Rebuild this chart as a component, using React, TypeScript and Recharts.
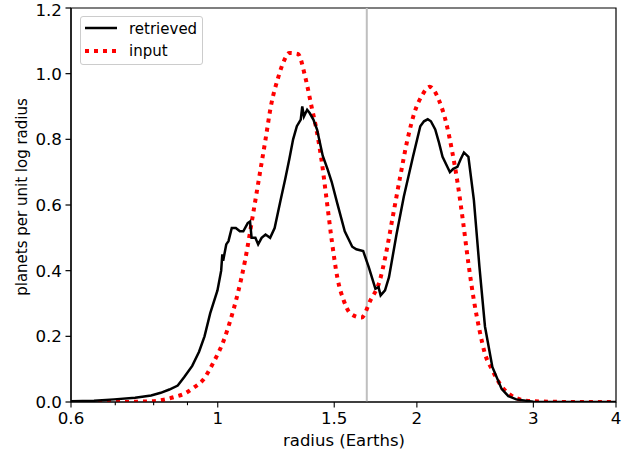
import React from "react";
import {
  LineChart,
  Line,
  XAxis,
  YAxis,
  ReferenceLine,
  ReferenceArea,
  Label,
} from "recharts";

// retrieved distribution (black)
const retrievedRadius = [
  0.6, 0.65, 0.697, 0.75, 0.793, 0.82, 0.845, 0.87, 0.89, 0.915, 0.937, 0.955,
  0.974, 0.999, 1.012, 1.016, 1.019, 1.03, 1.038, 1.05, 1.065, 1.08, 1.093,
  1.11, 1.119, 1.125, 1.14, 1.151, 1.165, 1.181, 1.2, 1.219, 1.243, 1.265,
  1.283, 1.3, 1.317, 1.335, 1.342, 1.35, 1.365, 1.377, 1.395, 1.413, 1.441,
  1.465, 1.487, 1.516, 1.556, 1.597, 1.62, 1.659, 1.692, 1.731, 1.75, 1.763,
  1.79, 1.815, 1.863, 1.911, 1.973, 2.024, 2.05, 2.077, 2.1, 2.132, 2.16, 2.187,
  2.244, 2.27, 2.303, 2.33, 2.356, 2.393, 2.439, 2.487, 2.535, 2.601, 2.686,
  2.75, 2.827, 3.0, 3.5, 4.0,
];
const retrievedValue = [
  0.002, 0.004, 0.008, 0.013, 0.02, 0.028, 0.038, 0.05, 0.076, 0.11, 0.153,
  0.2, 0.27, 0.34, 0.4, 0.45, 0.43, 0.48, 0.49, 0.53, 0.53, 0.52, 0.52, 0.545,
  0.55, 0.5, 0.5, 0.48, 0.5, 0.51, 0.5, 0.53, 0.61, 0.68, 0.74, 0.8, 0.84, 0.86,
  0.9, 0.87, 0.89, 0.88, 0.86, 0.83, 0.75, 0.71, 0.67, 0.605, 0.52, 0.473,
  0.465, 0.46, 0.41, 0.345, 0.35, 0.325, 0.34, 0.38, 0.51, 0.625, 0.747, 0.84,
  0.855, 0.861, 0.855, 0.83, 0.79, 0.747, 0.7, 0.71, 0.716, 0.74, 0.76, 0.747,
  0.615, 0.41, 0.23, 0.107, 0.04, 0.018, 0.008, 0.001, 0.0, 0.0,
];

// input distribution (red dotted)
const inputRadius = [
  0.6, 0.7, 0.793, 0.829, 0.859, 0.89, 0.919, 0.949, 0.986, 1.019, 1.045, 1.072,
  1.1, 1.129, 1.158, 1.181, 1.203, 1.235, 1.26, 1.283, 1.322, 1.356, 1.386,
  1.413, 1.435, 1.459, 1.487, 1.516, 1.55, 1.586, 1.649, 1.702, 1.758, 1.792,
  1.839, 1.887, 1.936, 1.986, 2.038, 2.091, 2.159, 2.215, 2.259, 2.303, 2.347,
  2.393, 2.439, 2.487, 2.535, 2.601, 2.668, 2.756, 2.864, 3.01, 3.5, 4.0,
];
const inputValue = [
  0.0, 0.0, 0.002, 0.007, 0.015, 0.025, 0.043, 0.066, 0.122, 0.183, 0.249, 0.33,
  0.432, 0.564, 0.697, 0.8, 0.9, 0.99, 1.04, 1.063, 1.06, 0.99, 0.9, 0.82,
  0.737, 0.625, 0.493, 0.38, 0.31, 0.27, 0.257, 0.31, 0.37, 0.442, 0.564, 0.686,
  0.8, 0.885, 0.935, 0.96, 0.92, 0.85, 0.768, 0.671, 0.554, 0.422, 0.31, 0.219,
  0.147, 0.097, 0.056, 0.025, 0.008, 0.002, 0.0, 0.0,
];

const xTicks = [0.6, 0.7, 0.8, 0.9, 1, 1.5, 2, 3, 4];
const xTickLabels = ["0.6", "", "", "", "1", "1.5", "2", "3", "4"];
const yTicks = [0, 0.2, 0.4, 0.6, 0.8, 1.0, 1.2];
const thresholdRadius = 1.68;

const retrieved = retrievedRadius.map((r, i) => ({ r, v: retrievedValue[i] }));
const input = inputRadius.map((r, i) => ({ r, v: inputValue[i] }));

const FONT = "DejaVu Sans, sans-serif";
const FS = 16.7;
const FS_SMALL = 15;

const XTick = (props: any) => {
  const { x, y, index } = props;
  const label = xTickLabels[index] ?? "";
  const major = label !== "";
  return (
    <g>
      <line x1={x} x2={x} y1={y} y2={y + (major ? 5.5 : 3.2)} stroke="#000" strokeWidth={1.1} />
      {major && (
        <text x={x} y={y + 22} textAnchor="middle" fontSize={FS} fontFamily={FONT} fill="#000">
          {label}
        </text>
      )}
    </g>
  );
};

function LegendBox() {
  return (
    <div
      style={{
        position: "absolute",
        left: 80,
        top: 16,
        width: 123,
        height: 49,
        border: "1px solid #cccccc",
        borderRadius: 3,
        background: "rgba(255,255,255,0.8)",
        boxSizing: "border-box",
      }}
    >
      <svg width={123} height={49} style={{ position: "absolute", left: -1, top: -1 }}>
        <line x1={5} x2={37} y1={12} y2={12} stroke="#000" strokeWidth={2.5} />
        <line x1={5} x2={37} y1={35} y2={35} stroke="#ff0000" strokeWidth={4} strokeDasharray="4 5" />
        <text x={49} y={17.5} fontSize={FS_SMALL} fontFamily={FONT} fill="#000">
          retrieved
        </text>
        <text x={49} y={40} fontSize={FS_SMALL} fontFamily={FONT} fill="#000">
          input
        </text>
      </svg>
    </div>
  );
}

export default function App() {
  return (
    <div style={{ position: "absolute", left: 0, top: 0, width: 638, height: 454, background: "#fff" }}>
      <LineChart width={638} height={454} margin={{ top: 8, right: 22, left: 0, bottom: 0 }}>
        <XAxis
          dataKey="r"
          type="number"
          scale="log"
          domain={[0.6, 4]}
          ticks={xTicks}
          allowDataOverflow
          height={52}
          tickLine={false}
          tickSize={0}
          tickMargin={0}
          tick={<XTick />}
          stroke="#000"
          strokeWidth={1.2}
          interval={0}
        >
          <Label
            content={() => (
              <text x={344} y={446} textAnchor="middle" fontSize={16.5} fontFamily={FONT} fill="#000">
                radius (Earths)
              </text>
            )}
          />
        </XAxis>
        <YAxis
          type="number"
          domain={[0, 1.2]}
          ticks={yTicks}
          width={71}
          tickSize={5.5}
          tickMargin={3.5}
          tickFormatter={(v: number) => v.toFixed(1)}
          tick={{ fontSize: FS, fontFamily: FONT, fill: "#000" }}
          stroke="#000"
          strokeWidth={1.2}
          allowDataOverflow
        >
          <Label
            content={() => (
              <text
                x={22}
                y={197}
                transform="rotate(-90 22 197)"
                textAnchor="middle"
                dominantBaseline="central"
                fontSize={FS_SMALL}
                fontFamily={FONT}
                fill="#000"
              >
                planets per unit log radius
              </text>
            )}
          />
        </YAxis>
        <ReferenceArea x1={0.6} x2={4} y1={0} y2={1.2} fill="none" stroke="#000" strokeWidth={1.2} />
        <ReferenceLine x={thresholdRadius} stroke="#bfbfbf" strokeWidth={2} />
        <Line
          data={input}
          dataKey="v"
          type="monotone"
          stroke="#ff0000"
          strokeWidth={4}
          strokeDasharray="4 5"
          dot={false}
          isAnimationActive={false}
          name="input"
        />
        <Line
          data={retrieved}
          dataKey="v"
          type="linear"
          stroke="#000"
          strokeWidth={2.5}
          dot={false}
          isAnimationActive={false}
          name="retrieved"
        />
      </LineChart>
      <LegendBox />
    </div>
  );
}
